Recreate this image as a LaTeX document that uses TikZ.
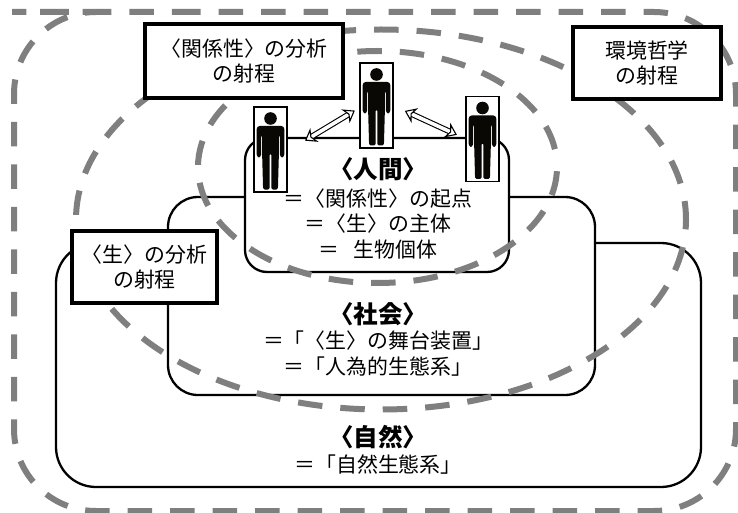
\documentclass[tikz,border=0pt]{standalone}
\usepackage{fontspec}
\setmainfont{Noto Sans CJK JP}
\usetikzlibrary{arrows.meta}

\newcommand{\heading}[1]{{\fontsize{24.5pt}{25.5pt}\selectfont\bfseries〈#1〉}}

\tikzset{
  region/.style={draw, fill=white, line width=2.3pt, rounded corners=#1, inner sep=0pt, outer sep=0pt},
  scopeline/.style={draw=scopegray, line width=6pt, dash pattern=on 24.5pt off 18pt},
  labelbox/.style={draw, fill=white, line width=3.6pt, inner sep=0pt, outer sep=0pt, align=center, bodyfont},
  figbox/.style={draw, fill=white, line width=1.3pt, minimum width=33pt, minimum height=85pt, inner sep=0pt, outer sep=0pt},
  caption/.style={align=center, inner sep=0pt, bodyfont},
  bodyfont/.style={font=\fontsize{20.9pt}{25.5pt}\selectfont},
  relation/.style={double=white, double distance=3.6pt, line width=1.1pt,
    {Stealth[length=11pt, width=16pt, inset=3.5pt, fill=white, line width=1.1pt]}-{Stealth[length=11pt, width=16pt, inset=3.5pt, fill=white, line width=1.1pt]}},
  person/.pic={
    \fill[figblack] (0,-31) circle (6.3pt);
    \fill[figblack, rounded corners=3pt] (-13.8,8) -- (-13.8,-23.5) -- (13.8,-23.5) -- (13.8,8)
      -- (9.4,8) -- (9.4,-15) -- (-9.4,-15) -- (-9.4,8) -- cycle;
    \fill[figblack, rounded corners=1.5pt] (-8.4,-20) -- (8.4,-20) -- (8.4,4) -- (7.4,40) -- (0.9,40) -- (0.9,4)
      -- (-0.9,4) -- (-0.9,40) -- (-7.4,40) -- (-8.4,4) -- cycle;
  }
}
\definecolor{scopegray}{HTML}{7F7F7F}
\definecolor{figblack}{HTML}{0A0805}

\begin{document}
\begin{tikzpicture}[x=1pt, y=-1pt]

  \useasboundingbox (0,0) rectangle (738,513);

  % Define regions
  \node[region=40pt, minimum width=645pt, minimum height=244pt] (nature) at (378.5,365) {};
  \node[region=30pt, minimum width=427pt, minimum height=198pt] (society) at (381.5,296) {};
  \node[region=22pt, minimum width=264pt, minimum height=134pt] (human) at (377,205) {};

  % Scopes
  \draw[scopeline, rounded corners=82pt] (94,12) -- (736,12) -- (736,511) -- (14,511) -- (14,12) -- cycle;
  \draw[scopeline, dash phase=6pt] (381,219.5) ellipse [x radius=305pt, y radius=190pt];
  \draw[scopeline, dash phase=24.5pt] (377.5,167) ellipse [x radius=179.5pt, y radius=116pt];

  % Region texts
  \node[caption] (humantext) at (378,208.5) {\heading{人間}\\[2pt]＝〈関係性〉の起点\\＝〈生〉の主体\\＝\hspace{.65em}生物個体};
  \node[caption] (societytext) at (378,339) {\heading{社会}\\＝「〈生〉の舞台装置」\\＝「人為的生態系」};
  \node[caption] (naturetext) at (378,450) {\heading{自然}\\＝「自然生態系」};

  % Scope labels
  \node[labelbox, minimum width=198pt, minimum height=74pt] (relationlabel) at (244,61) {〈関係性〉の分析\\の射程};
  \node[labelbox, minimum width=148pt, minimum height=72pt] (envlabel) at (647,63) {環境哲学\\の射程};
  \node[labelbox, minimum width=145pt, minimum height=72pt] (lifelabel) at (144.5,267) {〈生〉の分析\\の射程};

  % Figures
  \node[figbox] (figleft) at (270.5,149.5) {};
  \node[figbox] (figmid) at (376.5,105.5) {};
  \node[figbox] (figright) at (482.5,139) {};
  \foreach \fig in {figleft, figmid, figright}
    \pic at (\fig) {person};

  % Connect figures
  \draw[relation, shorten <=21pt, shorten >=6pt] ([yshift=-2pt]figleft.east) -- ([yshift=-2pt]figmid.west);
  \draw[relation, shorten <=13pt, shorten >=10pt] (figmid.east) -- (figright.west);

\end{tikzpicture}
\end{document}
